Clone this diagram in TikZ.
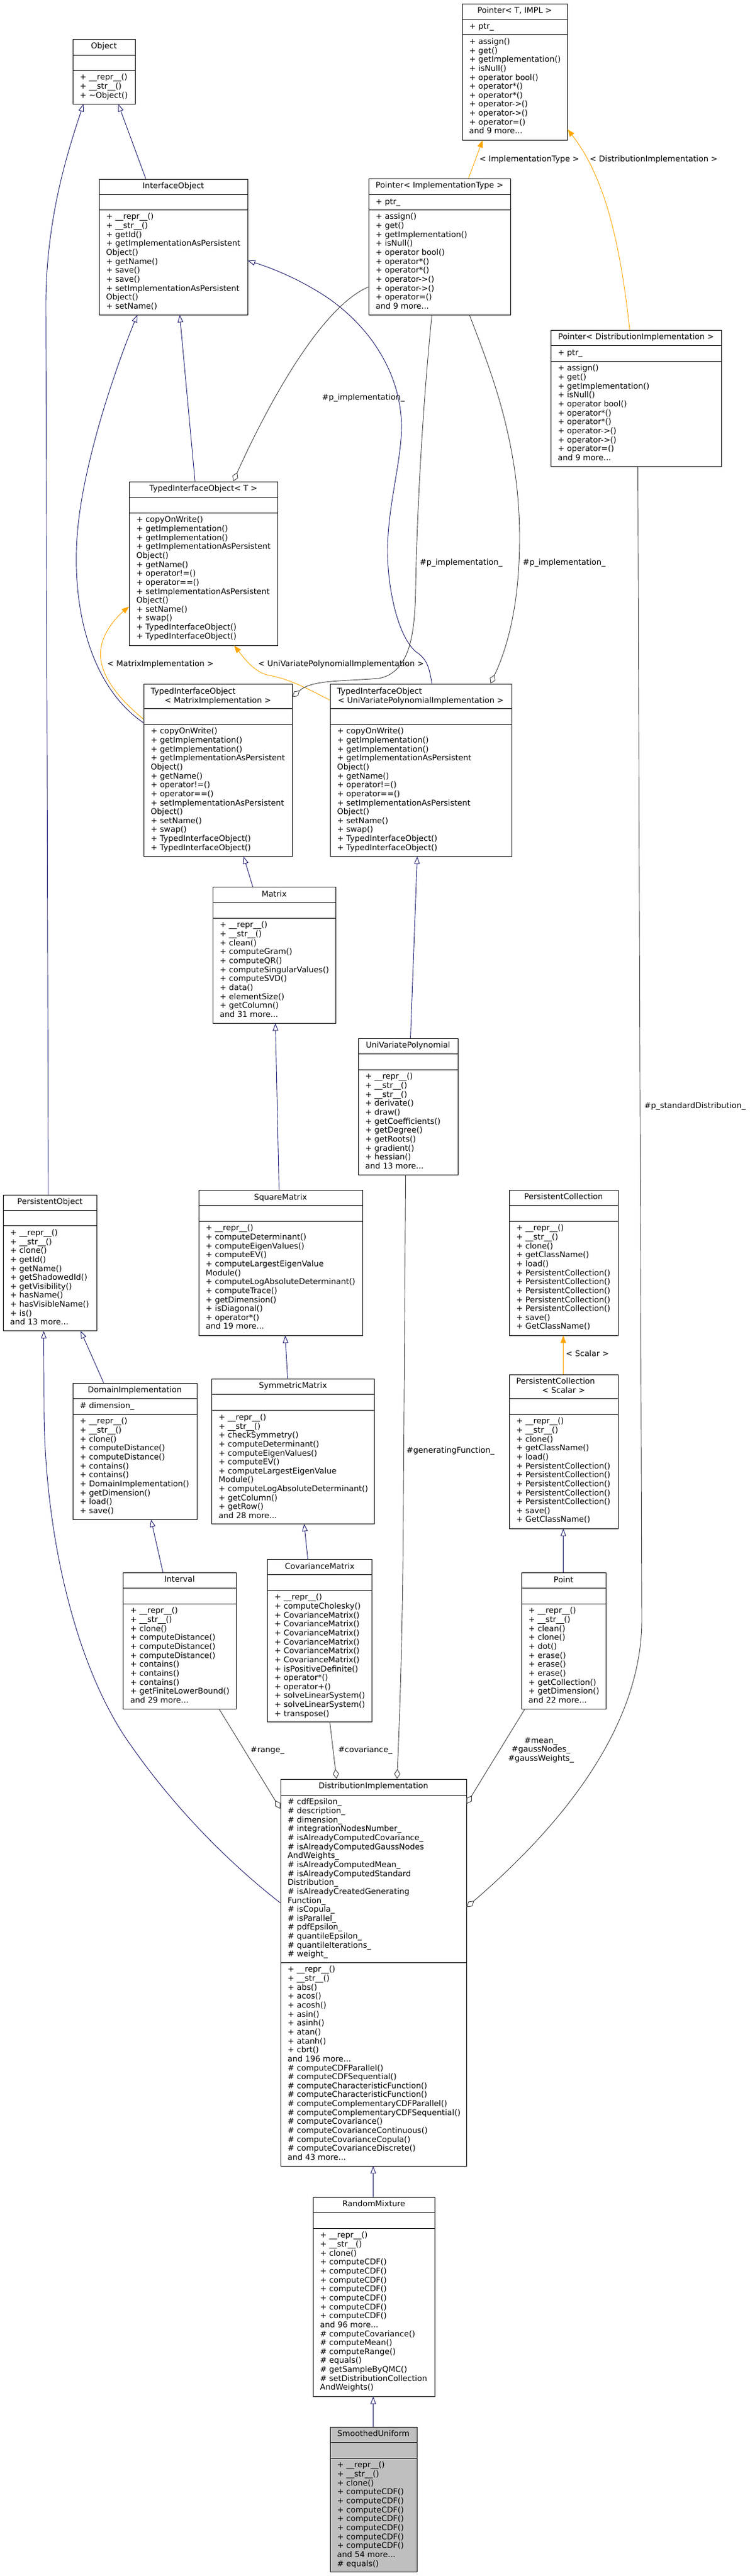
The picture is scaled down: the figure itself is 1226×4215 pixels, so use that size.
\documentclass[tikz,border=0pt]{standalone}
\usepackage{fontspec}
\setmainfont{DejaVu Sans}
\usetikzlibrary{arrows.meta,fit,calc}
\definecolor{mblue}{HTML}{191970}
\definecolor{tmplc}{HTML}{FFA500}
\definecolor{usec}{HTML}{404040}
\definecolor{selc}{HTML}{BFBFBF}
\newcommand\rp{+ \_\_repr\_\_()}
\newcommand\st{+ \_\_str\_\_()}
\newcommand\ptrmeth{+ assign()\\+ get()\\+ getImplementation()\\+ isNull()\\+ operator bool()\\+ operator*()\\+ operator*()\\+ operator->()\\+ operator->()\\+ operator=()\\and 9 more...}
\newcommand\tiometh{+ copyOnWrite()\\+ getImplementation()\\+ getImplementation()\\+ getImplementationAsPersistent\\Object()\\+ getName()\\+ operator!=()\\+ operator==()\\+ setImplementationAsPersistent\\Object()\\+ setName()\\+ swap()\\+ TypedInterfaceObject()\\+ TypedInterfaceObject()}
\newcommand\pcmeth{\rp\\\st\\+ clone()\\+ getClassName()\\+ load()\\+ PersistentCollection()\\+ PersistentCollection()\\+ PersistentCollection()\\+ PersistentCollection()\\+ PersistentCollection()\\+ save()\\+ GetClassName()}
\newcommand\umlbox[8]{%
  \node[clsbox, fill=#8, fit={(#2,#3) (#4,#5)}] (#1) {};
  \draw[sepl] (#2,#6) -- (#4,#6);
  \draw[sepl] (#2,#7) -- (#4,#7);
}
\begin{document}
\begin{tikzpicture}[x=1pt,y=-1pt,
  font=\fontsize{13}{14.65}\selectfont,
  clsbox/.style={draw=black, line width=0.9pt, inner sep=0pt},
  sepl/.style={draw=black, line width=0.9pt},
  ttl/.style={anchor=base, inner sep=0pt},
  mtxt/.style={anchor=north west, yshift=10.255pt, align=left, inner sep=0pt, execute at begin node=\strut},
  lbl/.style={anchor=north, yshift=10.255pt, align=center, inner sep=0pt, execute at begin node=\strut},
  inh/.style={draw=mblue, line width=0.9pt, -{Triangle[open, length=12pt, width=9pt]}},
  tmp/.style={draw=tmplc, line width=0.9pt, -{Triangle[length=12pt, width=9pt]}},
  use/.style={draw=usec, line width=0.9pt, -{Diamond[open, length=16pt, width=10pt]}}]
\fill[white] (0,0) rectangle (1226,4215);
\useasboundingbox (0,0) rectangle (1226,4215);

% ---------------- boxes ----------------
\umlbox{obj}{119}{64}{221}{170}{90}{115}{white}
\node[ttl] (obj-t) at ($(obj.north)+(0,16)$) {Object};
\node[mtxt] (obj-m) at (130.5,131) {\rp\\\st\\+ \textasciitilde Object()};

\umlbox{io}{162}{293}{405}{515}{318}{343}{white}
\node[ttl] (io-t) at ($(io.north)+(0,16)$) {InterfaceObject};
\node[mtxt] (io-m) at (173.5,359) {\rp\\\st\\+ getId()\\+ getImplementationAsPersistent\\Object()\\+ getName()\\+ save()\\+ save()\\+ setImplementationAsPersistent\\Object()\\+ setName()};

\umlbox{pti}{756}{6}{928}{229}{31.6}{56.6}{white}
\node[ttl] (pti-t) at ($(pti.north)+(0,16)$) {Pointer< T, IMPL >};
\node[mtxt] (pti-a) at (767.5,47.6) {+ ptr\_};
\node[mtxt] (pti-m) at (767.5,72.6) {\ptrmeth};

\umlbox{pit}{603}{292}{835}{515}{318}{343}{white}
\node[ttl] (pit-t) at ($(pit.north)+(0,16)$) {Pointer< ImplementationType >};
\node[mtxt] (pit-a) at (614.5,334) {+ ptr\_};
\node[mtxt] (pit-m) at (614.5,359) {\ptrmeth};

\umlbox{pdi}{901}{540}{1180}{763}{565}{591}{white}
\node[ttl] (pdi-t) at ($(pdi.north)+(0,16)$) {Pointer< DistributionImplementation >};
\node[mtxt] (pdi-a) at (912.5,581) {+ ptr\_};
\node[mtxt] (pdi-m) at (912.5,607) {\ptrmeth};

\umlbox{tiot}{211.5}{788}{454}{1056}{814}{839}{white}
\node[ttl] (tiot-t) at ($(tiot.north)+(0,16)$) {TypedInterfaceObject< T >};
\node[mtxt] (tiot-m) at (223,855) {\tiometh};

\umlbox{tiom}{235}{1119}{478}{1401}{1159}{1185}{white}
\node[anchor=base west, inner sep=0pt] (tiom-t1) at (246.5,1135) {TypedInterfaceObject};
\node[ttl] (tiom-t2) at (356.5,1150) {< MatrixImplementation >};
\node[mtxt] (tiom-m) at (246.5,1201) {\tiometh};

\umlbox{tiou}{540}{1119}{837}{1401}{1159}{1185}{white}
\node[anchor=base west, inner sep=0pt] (tiou-t1) at (551.5,1135) {TypedInterfaceObject};
\node[ttl] (tiou-t2) at (688.5,1150) {< UniVariatePolynomialImplementation >};
\node[mtxt] (tiou-m) at (551.5,1201) {\tiometh};

\umlbox{mat}{348}{1451.5}{549}{1674}{1476.5}{1502}{white}
\node[ttl] (mat-t) at ($(mat.north)+(0,16)$) {Matrix};
\node[mtxt] (mat-m) at (359.5,1518) {\rp\\\st\\+ clean()\\+ computeGram()\\+ computeQR()\\+ computeSingularValues()\\+ computeSVD()\\+ data()\\+ elementSize()\\+ getColumn()\\and 31 more...};

\umlbox{uvp}{586}{1699}{749}{1922}{1724.5}{1750}{white}
\node[ttl] (uvp-t) at ($(uvp.north)+(0,16)$) {UniVariatePolynomial};
\node[mtxt] (uvp-m) at (597.5,1766) {\rp\\\st\\\st\\+ derivate()\\+ draw()\\+ getCoefficients()\\+ getDegree()\\+ getRoots()\\+ gradient()\\+ hessian()\\and 13 more...};

\umlbox{sq}{325}{1947.5}{593}{2185}{1972.5}{1998}{white}
\node[ttl] (sq-t) at ($(sq.north)+(0,16)$) {SquareMatrix};
\node[mtxt] (sq-m) at (336.5,2014) {\rp\\+ computeDeterminant()\\+ computeEigenValues()\\+ computeEV()\\+ computeLargestEigenValue\\Module()\\+ computeLogAbsoluteDeterminant()\\+ computeTrace()\\+ getDimension()\\+ isDiagonal()\\+ operator*()\\and 19 more...};

\umlbox{po}{5}{1955}{158.5}{2177.5}{1980}{2005.6}{white}
\node[ttl] (po-t) at ($(po.north)+(0,16)$) {PersistentObject};
\node[mtxt] (po-m) at (16.5,2021.6) {\rp\\\st\\+ clone()\\+ getId()\\+ getName()\\+ getShadowedId()\\+ getVisibility()\\+ hasName()\\+ hasVisibleName()\\+ is()\\and 13 more...};

\umlbox{pc}{833}{1947}{1011}{2185}{1972.4}{1998}{white}
\node[ttl] (pc-t) at ($(pc.north)+(0,16)$) {PersistentCollection};
\node[mtxt] (pc-m) at (844.5,2014) {\pcmeth};

\umlbox{pcs}{833}{2249}{1011}{2501}{2288}{2314}{white}
\node[anchor=base west, inner sep=0pt] (pcs-t1) at (844.5,2264.5) {PersistentCollection};
\node[ttl] (pcs-t2) at (922,2279) {< Scalar >};
\node[mtxt] (pcs-m) at (844.5,2330) {\pcmeth};

\umlbox{dom}{119}{2263}{322}{2486}{2288}{2314}{white}
\node[ttl] (dom-t) at ($(dom.north)+(0,16)$) {DomainImplementation};
\node[mtxt] (dom-a) at (130.5,2304) {\# dimension\_};
\node[mtxt] (dom-m) at (130.5,2330) {\rp\\\st\\+ clone()\\+ computeDistance()\\+ computeDistance()\\+ contains()\\+ contains()\\+ DomainImplementation()\\+ getDimension()\\+ load()\\+ save()};

\umlbox{sym}{346}{2256}{612.5}{2493}{2281}{2307.6}{white}
\node[ttl] (sym-t) at ($(sym.north)+(0,16)$) {SymmetricMatrix};
\node[mtxt] (sym-m) at (357.5,2323.6) {\rp\\\st\\+ checkSymmetry()\\+ computeDeterminant()\\+ computeEigenValues()\\+ computeEV()\\+ computeLargestEigenValue\\Module()\\+ computeLogAbsoluteDeterminant()\\+ getColumn()\\+ getRow()\\and 28 more...};

\umlbox{int}{201.6}{2573}{386}{2796}{2598.5}{2624}{white}
\node[ttl] (int-t) at ($(int.north)+(0,16)$) {Interval};
\node[mtxt] (int-m) at (213,2640) {\rp\\\st\\+ clone()\\+ computeDistance()\\+ computeDistance()\\+ computeDistance()\\+ contains()\\+ contains()\\+ contains()\\+ getFiniteLowerBound()\\and 29 more...};

\umlbox{cov}{437.7}{2551.5}{608.5}{2817}{2576.6}{2602}{white}
\node[ttl] (cov-t) at ($(cov.north)+(0,16)$) {CovarianceMatrix};
\node[mtxt] (cov-m) at (449,2618) {\rp\\+ computeCholesky()\\+ CovarianceMatrix()\\+ CovarianceMatrix()\\+ CovarianceMatrix()\\+ CovarianceMatrix()\\+ CovarianceMatrix()\\+ CovarianceMatrix()\\+ isPositiveDefinite()\\+ operator*()\\+ operator+()\\+ solveLinearSystem()\\+ solveLinearSystem()\\+ transpose()};

\umlbox{pt}{853}{2573.5}{991}{2796}{2598.5}{2624}{white}
\node[ttl] (pt-t) at ($(pt.north)+(0,16)$) {Point};
\node[mtxt] (pt-m) at (864.5,2640) {\rp\\\st\\+ clean()\\+ clone()\\+ dot()\\+ erase()\\+ erase()\\+ erase()\\+ getCollection()\\+ getDimension()\\and 22 more...};

\umlbox{di}{459}{2911}{763}{3544}{2937}{3211}{white}
\node[ttl] (di-t) at ($(di.north)+(0,16)$) {DistributionImplementation};
\node[mtxt] (di-a) at (470.5,2953) {\# cdfEpsilon\_\\\# description\_\\\# dimension\_\\\# integrationNodesNumber\_\\\# isAlreadyComputedCovariance\_\\\# isAlreadyComputedGaussNodes\\AndWeights\_\\\# isAlreadyComputedMean\_\\\# isAlreadyComputedStandard\\Distribution\_\\\# isAlreadyCreatedGenerating\\Function\_\\\# isCopula\_\\\# isParallel\_\\\# pdfEpsilon\_\\\# quantileEpsilon\_\\\# quantileIterations\_\\\# weight\_};
\node[mtxt] (di-m) at (470.5,3227) {\rp\\\st\\+ abs()\\+ acos()\\+ acosh()\\+ asin()\\+ asinh()\\+ atan()\\+ atanh()\\+ cbrt()\\and 196 more...\\\# computeCDFParallel()\\\# computeCDFSequential()\\\# computeCharacteristicFunction()\\\# computeCharacteristicFunction()\\\# computeComplementaryCDFParallel()\\\# computeComplementaryCDFSequential()\\\# computeCovariance()\\\# computeCovarianceContinuous()\\\# computeCovarianceCopula()\\\# computeCovarianceDiscrete()\\and 43 more...};

\umlbox{rm}{512}{3595}{711}{3921}{3620}{3646}{white}
\node[ttl] (rm-t) at ($(rm.north)+(0,16)$) {RandomMixture};
\node[mtxt] (rm-m) at (523.5,3662) {\rp\\\st\\+ clone()\\+ computeCDF()\\+ computeCDF()\\+ computeCDF()\\+ computeCDF()\\+ computeCDF()\\+ computeCDF()\\+ computeCDF()\\and 96 more...\\\# computeCovariance()\\\# computeMean()\\\# computeRange()\\\# equals()\\\# getSampleByQMC()\\\# setDistributionCollection\\AndWeights()};

\umlbox{su}{540}{3971}{682}{4208}{3996}{4022}{selc}
\node[ttl] (su-t) at ($(su.north)+(0,16)$) {SmoothedUniform};
\node[mtxt] (su-m) at (551.5,4038) {\rp\\\st\\+ clone()\\+ computeCDF()\\+ computeCDF()\\+ computeCDF()\\+ computeCDF()\\+ computeCDF()\\+ computeCDF()\\+ computeCDF()\\and 54 more...\\\# equals()};

% ---------------- inheritance ----------------
\draw[inh] ([xshift=77pt]io.north west) -- ([xshift=75pt]obj.south west);
\draw[inh] ([xshift=74.5pt]po.north west) -- (75,500) .. controls (75,360) and (110,250) .. ([xshift=18pt]obj.south west);
\draw[inh] ([xshift=108pt]tiot.north west) -- ([xshift=132.5pt]io.south west);
\draw[inh] ([yshift=-64pt]tiom.north west) .. controls (150,1125) and (118,1000) .. (126,880) .. controls (134,760) and (190,600) .. ([xshift=63pt]io.south west);
\draw[inh] ([xshift=167pt]tiou.north west) .. controls (702,1090) and (698,1078) .. (680,1066) .. controls (650,1040) and (634,960) .. (634,902) .. controls (634,820) and (662,740) .. (656,680) .. controls (650,610) and (610,540) .. (540,490) .. controls (500,462) and (450,440) .. ([yshift=-134pt]io.north east);
\draw[inh] ([xshift=66pt]mat.north west) -- ([xshift=164pt]tiom.south west);
\draw[inh] ([xshift=132pt]sq.north west) -- ([xshift=103pt]mat.south west);
\draw[inh] ([xshift=86pt]uvp.north west) -- ([xshift=143pt]tiou.south west);
\draw[inh] ([xshift=125pt]sym.north west) -- ([xshift=142pt]sq.south west);
\draw[inh] ([xshift=66.3pt]cov.north west) -- ([xshift=152pt]sym.south west);
\draw[inh] ([xshift=51pt]dom.north west) -- ([xshift=127.5pt]po.south west);
\draw[inh] ([xshift=65.4pt]int.north west) -- ([xshift=128.5pt]dom.south west);
\draw[inh] ([yshift=-203pt]di.north west) .. controls (400,3068) and (300,2980) .. (210,2850) .. controls (120,2720) and (72,2500) .. (72,2300) -- ([xshift=67pt]po.south west);
\draw[inh] ([xshift=69pt]pt.north west) -- ([xshift=89pt]pcs.south west);
\draw[inh] ([xshift=99pt]rm.north west) -- ([xshift=152pt]di.south west);
\draw[inh] ([xshift=71pt]su.north west) -- ([xshift=99pt]rm.south west);

% ---------------- template instances ----------------
\draw[tmp] ([yshift=-58pt]tiom.north west) .. controls (190,1140) and (160,1100) .. (165,1062) .. controls (168,1035) and (190,1010) .. ([yshift=-205pt]tiot.north west);
\draw[tmp] ([yshift=-27pt]tiou.north west) .. controls (500,1125) and (470,1110) .. (440,1105) .. controls (415,1100) and (398,1075) .. ([xshift=172pt]tiot.south west);
\draw[tmp] ([xshift=164pt]pit.north west) -- ([xshift=34pt]pti.south west);
\draw[tmp] ([xshift=129.6pt]pdi.north west) .. controls (1015,400) and (990,290) .. ([yshift=-206pt]pti.north east);
\draw[tmp] ([xshift=89pt]pcs.north west) -- ([xshift=89pt]pc.south west);

\node[lbl] (l-mi) at (262.5,1090.7) {< MatrixImplementation >};
\node[lbl] (l-uv) at (558,1090.7) {< UniVariatePolynomialImplementation >};
\node[lbl] (l-it) at (866,264.5) {< ImplementationType >};
\node[lbl] (l-dimp) at (1069.5,264.5) {< DistributionImplementation >};
\node[lbl] (l-sc) at (961,2219.7) {< Scalar >};

% ---------------- usage ----------------
\draw[use] ([yshift=-178pt]pit.north west) .. controls (520,505) and (430,680) .. ([xshift=170.5pt]tiot.north west);
\draw[use] ([xshift=104pt]pit.south west) .. controls (690,680) and (682,850) .. (680,960) .. controls (679,1040) and (670,1100) .. (620,1110) .. controls (560,1115) and (510,1112) .. ([yshift=-22pt]tiom.north east);
\draw[use] ([xshift=165.5pt]pit.south west) .. controls (800,600) and (850,720) .. (850,880) .. controls (850,990) and (830,1060) .. ([xshift=263pt]tiou.north west);
\draw[use] ([xshift=157.4pt]int.south west) -- ([yshift=-49pt]di.north west);
\draw[use] ([xshift=102.3pt]cov.south west) -- ([xshift=92pt]di.north west);
\draw[use] ([xshift=78pt]uvp.south west) -- (660,2450) .. controls (659,2700) and (652,2850) .. ([xshift=191pt]di.north west);
\draw[use] ([xshift=6pt]pt.south west) -- ([yshift=-41pt]di.north east);
\draw[use] ([xshift=143pt]pdi.south west) -- (1050,2650) .. controls (1050,2850) and (880,3020) .. ([yshift=-210pt]di.north east);

\node[lbl] (l-p1) at (594.5,654.7) {\#p\_implementation\_};
\node[lbl] (l-p2) at (754.5,924.7) {\#p\_implementation\_};
\node[lbl] (l-p3) at (923,924.7) {\#p\_implementation\_};
\node[lbl] (l-sd) at (1137,1813.7) {\#p\_standardDistribution\_};
\node[lbl] (l-gf) at (737,2377.7) {\#generatingFunction\_};
\node[lbl] (l-rg) at (437.5,2867.7) {\#range\_};
\node[lbl] (l-cv) at (597.5,2867.7) {\#covariance\_};
\node[lbl] (l-mn) at (885,2852.7) {\#mean\_\\\#gaussNodes\_\\\#gaussWeights\_};
\end{tikzpicture}
\end{document}
